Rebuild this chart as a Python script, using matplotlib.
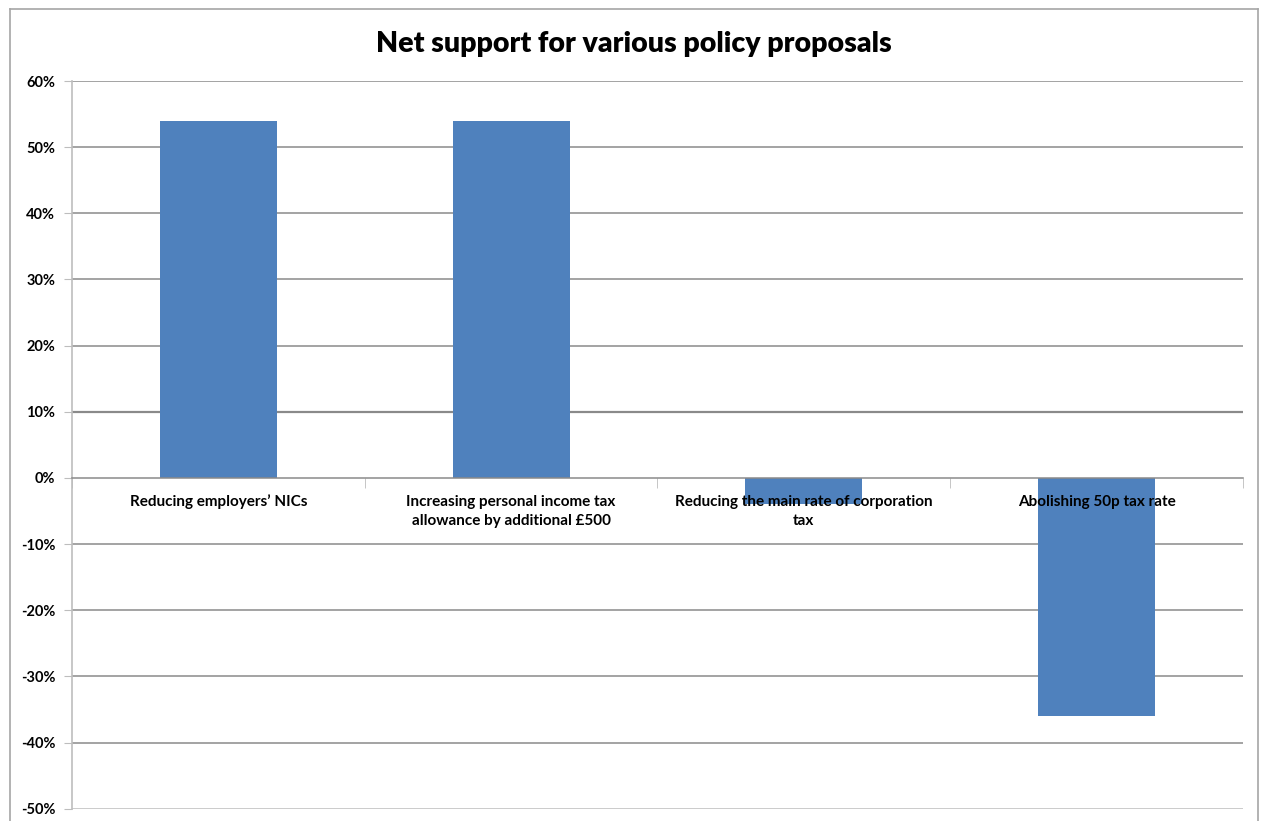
import matplotlib.pyplot as plt
from matplotlib.lines import Line2D
from matplotlib.ticker import FuncFormatter

# net support per proposal, percentage points
proposals = [
    "Reducing employers’ NICs",
    "Increasing personal income tax\nallowance by additional £500",
    "Reducing the main rate of corporation\ntax",
    "Abolishing 50p tax rate",
]
net_support = [54, 54, -4, -36]
y_ticks = [-50, -40, -30, -20, -10, 0, 10, 20, 30, 40, 50, 60]

BAR = "#4F81BD"
GRID = "#8a8a8a"
LIGHT = "#bdbdbd"


def main():
    plt.rcParams['font.family'] = ['Lato', 'DejaVu Sans']
    fig = plt.figure(figsize=(12.61, 8.21), dpi=100)
    ax = fig.add_axes([0.0571, 0.0150, 0.9286, 0.8863])

    # chart frame (bottom edge runs off the page)
    for xs, ys in [([0.008, 0.998], [0.989, 0.989]),
                   ([0.008, 0.008], [0.989, -0.01]),
                   ([0.998, 0.998], [0.989, -0.01])]:
        fig.add_artist(Line2D(xs, ys, transform=fig.transFigure,
                              color="#a6a6a6", lw=1.2))

    fig.text(0.503, 0.946, "Net support for various policy proposals",
             ha='center', va='center', fontsize=20.5, fontweight='heavy')

    x = range(len(proposals))
    # patches at zorder 1 keep the category labels (axis, 1.5) on top
    ax.bar(x, net_support, width=0.4, color=BAR, zorder=1)

    for t in y_ticks:
        if t == 0:
            continue
        ax.axhline(t, color=GRID if t != -50 else LIGHT,
                   lw=1.6 if t == 10 else 1.1, zorder=0.5)

    ax.set_xlim(-0.5, len(proposals) - 0.5)
    ax.set_ylim(-50, 60)
    ax.set_yticks(y_ticks)
    ax.yaxis.set_major_formatter(FuncFormatter(lambda v, p: f"{v:.0f}%"))

    ax.spines['top'].set_visible(False)
    ax.spines['right'].set_visible(False)
    ax.spines['left'].set_color(LIGHT)
    ax.spines['left'].set_linewidth(1.2)
    ax.spines['bottom'].set_position(('data', 0))
    ax.spines['bottom'].set_color(GRID)
    ax.spines['bottom'].set_linewidth(1.1)

    ax.tick_params(axis='y', length=6, color=LIGHT, pad=6, labelsize=10.5)
    for lab in ax.get_yticklabels():
        lab.set_fontweight('bold')

    ax.set_xticks(list(x))
    ax.set_xticklabels(proposals, fontsize=11, fontweight='bold',
                       linespacing=1.5)
    ax.set_xticks([i - 0.5 for i in range(len(proposals) + 1)], minor=True)
    ax.tick_params(axis='x', which='major', length=0, pad=12)
    ax.tick_params(axis='x', which='minor', length=7, color=LIGHT,
                   direction='out')

    fig.savefig("out.png", dpi=100)


if __name__ == "__main__":
    main()
